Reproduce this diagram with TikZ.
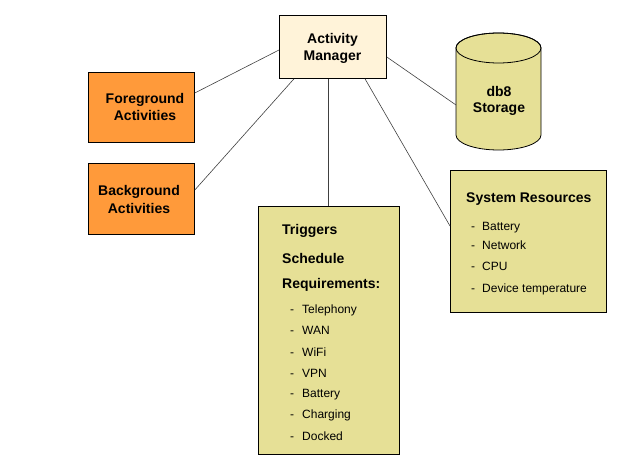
\documentclass[tikz,border=0pt]{standalone}
\usepackage{fontspec}
\setmainfont{Liberation Sans}
\usetikzlibrary{calc}
\definecolor{cream}{HTML}{FFF3D9}
\definecolor{orangebox}{HTML}{FF9A3A}
\definecolor{khaki}{HTML}{E6E096}
\definecolor{linegray}{HTML}{404040}
\tikzset{
  box/.style={draw=black, line width=0.8pt, inner sep=0pt, anchor=north west},
  big/.style={font=\fontsize{14}{16}\selectfont\bfseries, inner sep=0pt, text=black, anchor=base},
  small/.style={font=\fontsize{12}{14}\selectfont, inner sep=0pt, text=black, anchor=base west},
  bigl/.style={big, anchor=base west},
  conn/.style={draw=linegray, line width=0.6pt}
}
\begin{document}
\begin{tikzpicture}[x=1pt,y=-1pt]
\useasboundingbox (0,0) rectangle (624,468);
% boxes
\node[box, fill=cream, minimum width=107pt, minimum height=63pt] (am) at (279,15) {};
\node[box, fill=orangebox, minimum width=106pt, minimum height=70pt] (fg) at (88,72) {};
\node[box, fill=orangebox, minimum width=106pt, minimum height=71pt] (bg) at (88,163) {};
\node[box, fill=khaki, minimum width=141pt, minimum height=248pt] (tr) at (258,206) {};
\node[box, fill=khaki, minimum width=156pt, minimum height=142pt] (sr) at (450,170) {};
% cylinder
\filldraw[fill=khaki, draw=black, line width=0.8pt]
  (456,48) -- (456,135) arc[start angle=180, end angle=360, x radius=42.5pt, y radius=15pt]
  -- (541,48) arc[start angle=0, end angle=180, x radius=42.5pt, y radius=15pt] -- cycle;
\draw[line width=0.8pt] (498.5,48) ellipse [x radius=42.5pt, y radius=15pt];
\coordinate (dbl) at (456,105);
% texts
\node[big] (am1) at (332.5,44) {Activity};
\node[big] (am2) at (332.5,61) {Manager};
\node[big] (fg1) at (145,104) {Foreground};
\node[big] (fg2) at (145,121) {Activities};
\node[big] (bg1) at (139,196) {Background};
\node[big] (bg2) at (139,213) {Activities};
\node[big] (db1) at (499,97) {db8};
\node[big] (db2) at (499,113) {Storage};
\node[bigl] (t1) at (282,234) {Triggers};
\node[bigl] (t2) at (282,263) {Schedule};
\node[bigl] (t3) at (282,288) {Requirements:};
\foreach \n/\y/\t in {a/313.5/Telephony, b/334.5/WAN, c/356.5/WiFi, d/377.5/VPN, e/397.5/Battery, f/418.5/Charging, g/440.5/Docked}{
  \node[small] (td\n) at (290,\y) {-};
  \node[small] (tt\n) at (302,\y) {\t};
}
\node[bigl] (s0) at (466,203) {System Resources};
\foreach \n/\y/\t in {a/230.5/Battery, b/249.5/Network, c/270.5/CPU, d/292.5/Device temperature}{
  \node[small] (sd\n) at (471,\y) {-};
  \node[small] (st\n) at (482,\y) {\t};
}
% connectors
\draw[conn] ($(am.north west)+(0,35)$) -- ($(fg.north east)+(0,21)$);
\draw[conn] ($(am.south west)+(15,0)$) -- ($(bg.north east)+(0,27)$);
\draw[conn] ($(am.south west)+(49,0)$) -- ($(tr.north west)+(70,0)$);
\draw[conn] ($(am.south west)+(86,0)$) -- ($(sr.north west)+(0,56)$);
\draw[conn] ($(am.north east)+(0,42)$) -- (dbl);
\end{tikzpicture}
\end{document}
